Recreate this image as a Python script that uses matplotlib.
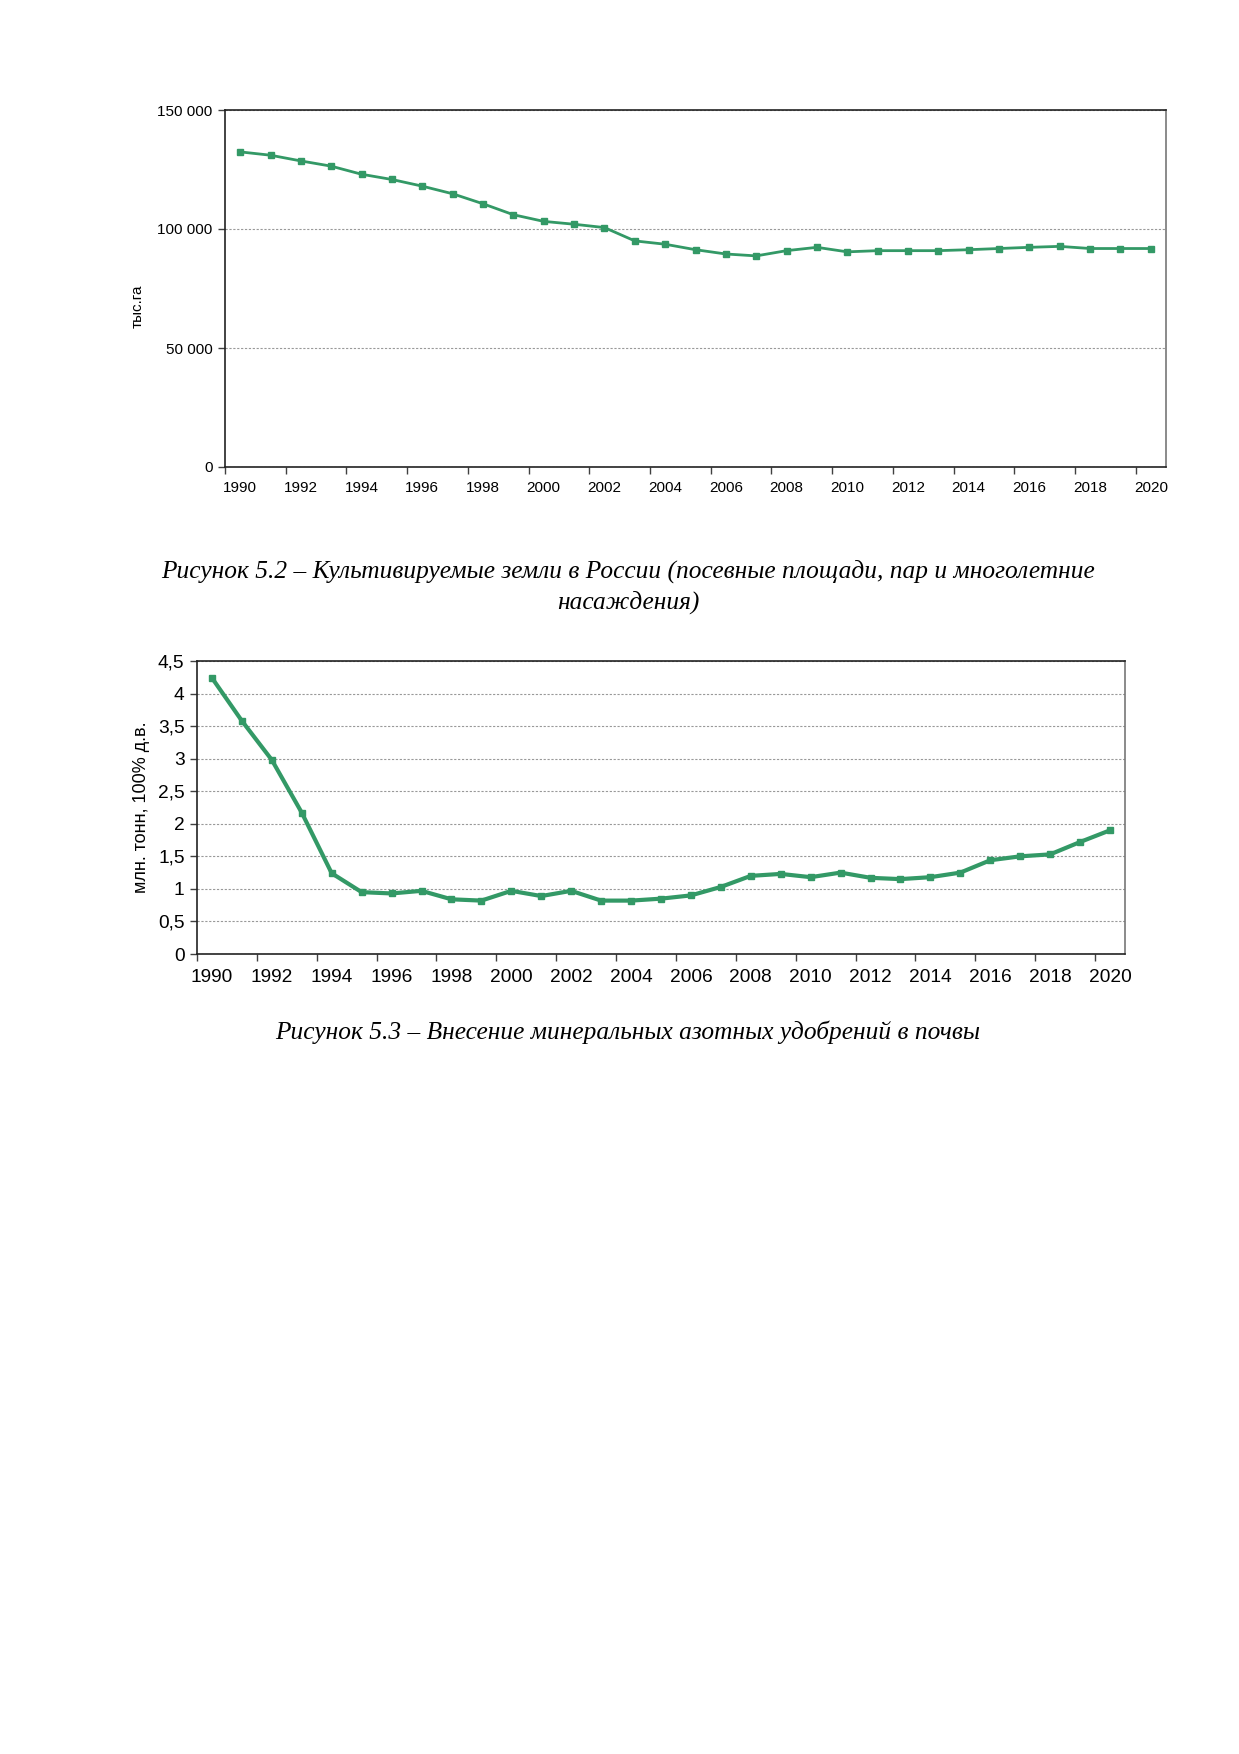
import matplotlib
matplotlib.use("Agg")
import matplotlib.pyplot as plt
from matplotlib.ticker import FuncFormatter, FixedLocator

years = list(range(1990, 2021))

# Рисунок 5.2 - культивируемые земли, тыс. га
land = [132400, 131000, 128600, 126400, 123000, 120800, 118000, 114800, 110600,
        106000, 103200, 102000, 100600, 95000, 93600, 91300, 89500, 88700, 90900,
        92300, 90400, 90900, 90900, 90900, 91300, 91800, 92300, 92700, 91800,
        91800, 91800]

# Рисунок 5.3 - азотные удобрения, млн. тонн 100% д.в.
nitro = [4.24, 3.58, 2.98, 2.17, 1.24, 0.95, 0.93, 0.97, 0.84, 0.82, 0.97, 0.89,
         0.97, 0.82, 0.82, 0.85, 0.90, 1.03, 1.20, 1.23, 1.18, 1.25, 1.17, 1.15,
         1.18, 1.25, 1.44, 1.50, 1.53, 1.72, 1.90]

caption1 = "Рисунок 5.2 – Культивируемые земли в России (посевные площади, пар и многолетние\nнасаждения)"
caption2 = "Рисунок 5.3 – Внесение минеральных азотных удобрений в почвы"

W, H = 1239, 1754
green = "#339966"

plt.rcParams['font.family'] = ['Liberation Sans', 'DejaVu Sans']

fig = plt.figure(figsize=(W / 100, H / 100), dpi=100)
fig.patch.set_facecolor("white")


def box(l, t, r, b):
    return [l / W, 1 - b / H, (r - l) / W, (b - t) / H]


def category_axis(ax, fs, xpad):
    n = len(years)
    x = list(range(n))
    ax.set_xlim(-0.5, n - 0.5)
    ax.xaxis.set_major_locator(FixedLocator([i - 0.5 for i in x[::2]]))
    ax.xaxis.set_minor_locator(FixedLocator(x[::2]))
    ax.xaxis.set_major_formatter(FuncFormatter(lambda v, p: ""))
    ax.xaxis.set_minor_formatter(FuncFormatter(lambda v, p: str(years[int(round(v))])))
    ax.tick_params(axis='x', which='major', direction='out', length=5, width=1, color='#404040')
    ax.tick_params(axis='x', which='minor', length=0, labelsize=fs, pad=xpad)
    ax.tick_params(axis='y', direction='out', length=5, width=1, color='#404040', labelsize=fs, pad=4)
    for s in ax.spines.values():
        s.set_linewidth(1.2)
        s.set_color('#222222')
    ax.spines['right'].set_color('#777777')
    ax.yaxis.grid(True, linestyle=(0, (2, 1.5)), color='#999999', linewidth=0.8)
    ax.set_axisbelow(True)
    return x


# верхний график
ax1 = fig.add_axes(box(225, 110, 1166, 467))
x = category_axis(ax1, 11, 10)
ax1.plot(x, land, color=green, lw=2, marker='s', ms=4.5, clip_on=False)
ax1.set_ylim(0, 150000)
ax1.set_yticks([0, 50000, 100000, 150000])
ax1.yaxis.set_major_formatter(FuncFormatter(lambda v, p: f"{int(v):,}".replace(",", " ")))
ax1.set_ylabel("тыс.га", fontsize=11)
ax1.yaxis.set_label_coords(-0.085, 0.45)

fig.text(628 / W, 1 - 587 / H, caption1, ha='center', va='center', fontsize=18.3,
         family='Liberation Serif', style='italic', linespacing=1.4)

# нижний график
ax2 = fig.add_axes(box(197, 661, 1125, 954))
x = category_axis(ax2, 13.8, 11)
ax2.plot(x, nitro, color=green, lw=3, marker='s', ms=5, clip_on=False)
ax2.set_ylim(0, 4.5)
ax2.set_yticks([i * 0.5 for i in range(10)])
ax2.yaxis.set_major_formatter(FuncFormatter(lambda v, p: f"{v:g}".replace(".", ",")))
ax2.set_ylabel("млн. тонн, 100% д.в.", fontsize=13, labelpad=6)

fig.text(628 / W, 1 - 1032 / H, caption2, ha='center', va='center', fontsize=18.3,
         family='Liberation Serif', style='italic')

fig.savefig("out.png", dpi=100, facecolor="white")
